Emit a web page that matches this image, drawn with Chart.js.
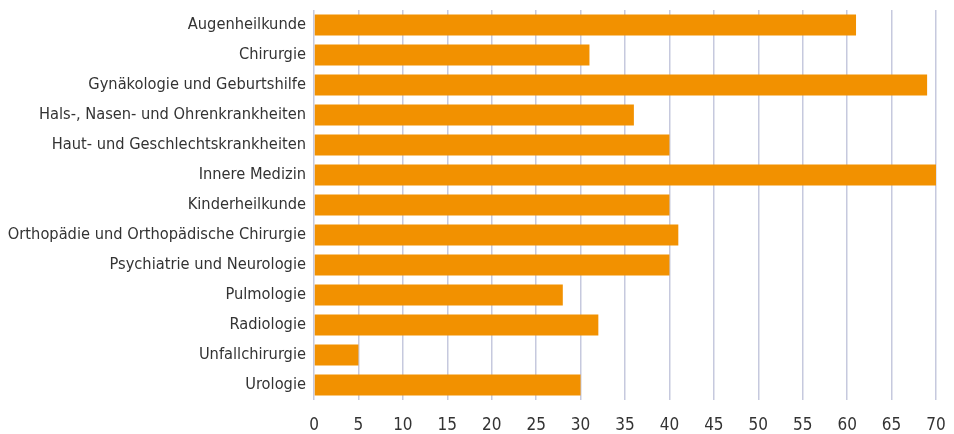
<!DOCTYPE html>
<html>
<head>
<meta charset="utf-8">
<script src="https://cdn.jsdelivr.net/npm/chart.js@4"></script>
<style>
  html, body { margin: 0; padding: 0; background: #fff; }
  #wrap { width: 954px; height: 434px; }
</style>
</head>
<body>
<div id="wrap"><canvas id="myChart" width="954" height="434"></canvas></div>
<script>
// Fachrichtungen und Werte
const fachrichtungen = [
    'Augenheilkunde',
    'Chirurgie',
    'Gynäkologie und Geburtshilfe',
    'Hals-, Nasen- und Ohrenkrankheiten',
    'Haut- und Geschlechtskrankheiten',
    'Innere Medizin',
    'Kinderheilkunde',
    'Orthopädie und Orthopädische Chirurgie',
    'Psychiatrie und Neurologie',
    'Pulmologie',
    'Radiologie',
    'Unfallchirurgie',
    'Urologie'
];
const werte = [61, 31, 69, 36, 40, 70, 40, 41, 40, 28, 32, 5, 30];
const xMin = 0;
const xMax = 70;
const xStep = 5;

const fontFamily = "'Liberation Sans Narrow', 'DejaVu Sans Condensed', 'Roboto', sans-serif";

const ctx = document.getElementById('myChart');

new Chart(ctx, {
    type: 'bar',
    data: {
        labels: fachrichtungen,
        datasets: [{
            data: werte,
            backgroundColor: '#f29100',
            borderWidth: 0,
            categoryPercentage: 1,
            barPercentage: 0.7
        }]
    },
    options: {
        indexAxis: 'y',
        responsive: false,
        animation: false,
        layout: {
            padding: { top: 10, right: 18, left: 0, bottom: 0 }
        },
        plugins: {
            legend: { display: false },
            tooltip: { enabled: false }
        },
        scales: {
            x: {
                min: xMin,
                max: xMax,
                ticks: {
                    stepSize: xStep,
                    color: '#333333',
                    padding: 15,
                    font: { family: fontFamily, size: 17 }
                },
                grid: {
                    color: '#c6c9de',
                    lineWidth: 1.5,
                    drawTicks: false
                },
                border: { display: false },
                afterFit: function (scale) {
                    scale.height = 34;
                    scale.paddingLeft = 0;
                    scale.paddingRight = 0;
                }
            },
            y: {
                ticks: {
                    color: '#333333',
                    padding: 8,
                    font: { family: fontFamily, size: 16.3 }
                },
                grid: { display: false, drawTicks: false },
                border: { display: false },
                afterFit: function (scale) {
                    scale.width = 314;
                    scale.paddingTop = 0;
                    scale.paddingBottom = 0;
                }
            }
        }
    }
});
</script>
</body>
</html>
